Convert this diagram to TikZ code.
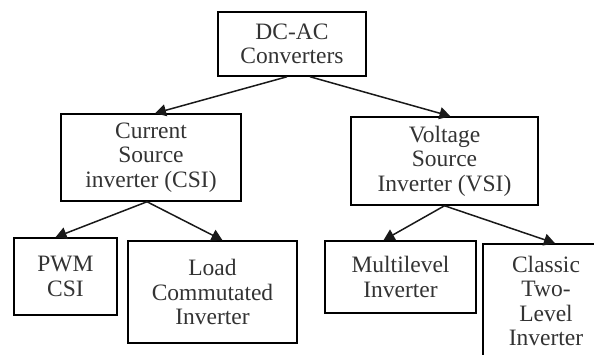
\documentclass[tikz,border=0pt]{standalone}
\usepackage{fontspec}
\setmainfont{Liberation Serif}
\usepackage{tikz}
\usetikzlibrary{arrows.meta}

\begin{document}
\begin{tikzpicture}[x=1pt,y=-1pt,->,>={Triangle[length=11pt,width=12pt]},line width=1.5pt,
        conv node/.style={draw,rectangle,align=center,inner sep=0pt,
            font=\fontsize{23.5}{24.5}\selectfont,text=black!80},
        every edge/.style={draw,black!90}]
        \useasboundingbox (0,0) rectangle (594,354);
        \clip (0,0) rectangle (594,354);
        \node[conv node,minimum width=148,minimum height=64] (dcac) at (292,44) {DC-AC\\Converters};
        \node[conv node,minimum width=180,minimum height=87] (csi) at (151,157.5) {Current\\Source\\inverter (CSI)};
        \node[conv node,minimum width=187,minimum height=88] (vsi) at (444.5,161) {Voltage\\Source\\Inverter (VSI)};
        \node[conv node,minimum width=103,minimum height=77] (pwm) at (65.5,276.5) {PWM\\CSI};
        \node[conv node,minimum width=169,minimum height=102] (lci) at (212.5,292) {Load\\Commutated\\Inverter};
        \node[conv node,minimum width=151,minimum height=72] (mli) at (400.5,277) {Multilevel\\Inverter};
        \node[conv node,minimum width=126,minimum height=114] (tli) at (546,301) {Classic\\Two-\\Level\\Inverter};
        
        \path[]
        ([xshift=-5pt]dcac.south) edge ([xshift=4pt]csi.north)
        ([xshift=18pt]dcac.south) edge ([xshift=6pt]vsi.north)
        ([xshift=-4pt]csi.south) edge ([xshift=-10pt]pwm.north)
        ([xshift=-4pt]csi.south) edge ([xshift=10pt]lci.north)
        (vsi.south) edge ([xshift=-17pt]mli.north)
        (vsi.south) edge ([xshift=9pt]tli.north);
    \end{tikzpicture}
\end{document}
